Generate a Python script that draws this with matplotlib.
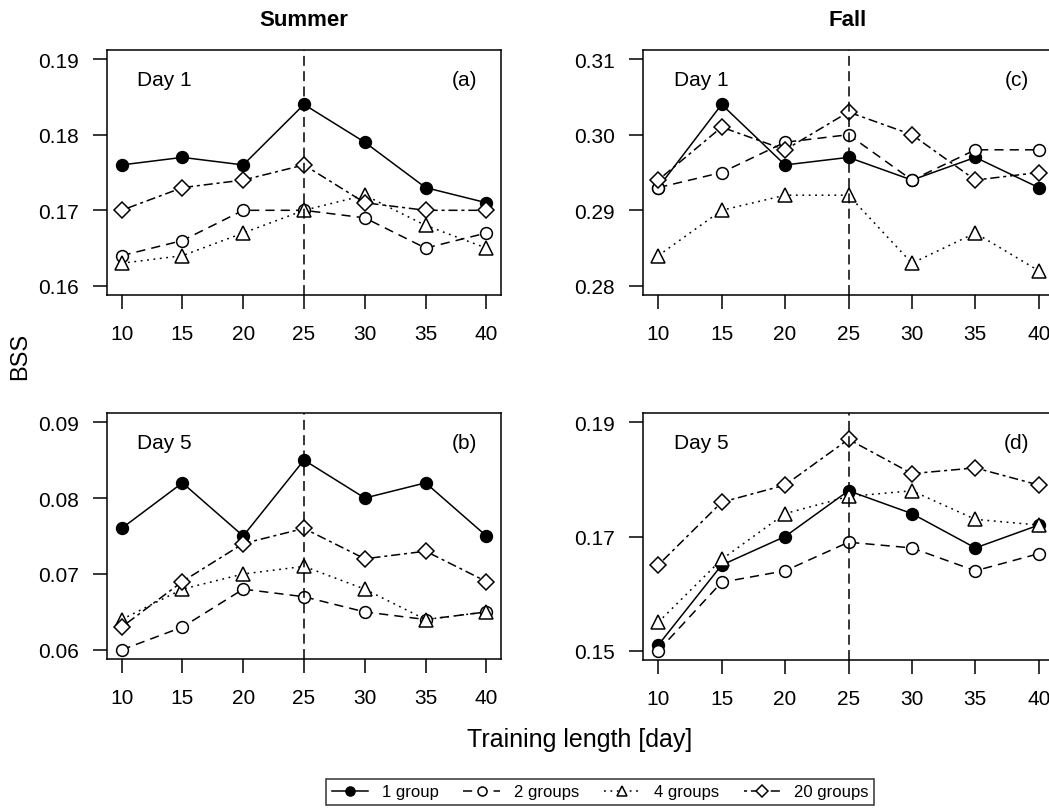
import matplotlib
matplotlib.use("Agg")
import matplotlib.pyplot as plt
from matplotlib.lines import Line2D

plt.rcParams['font.family'] = ['Liberation Sans', 'DejaVu Sans']

days = [10, 15, 20, 25, 30, 35, 40]
series_names = ["1 group", "2 groups", "4 groups", "20 groups"]

# Summer, Day 1 (a)
summer_d1_g1 = [0.176, 0.177, 0.176, 0.184, 0.179, 0.173, 0.171]
summer_d1_g2 = [0.164, 0.166, 0.170, 0.170, 0.169, 0.165, 0.167]
summer_d1_g4 = [0.163, 0.164, 0.167, 0.170, 0.172, 0.168, 0.165]
summer_d1_g20 = [0.170, 0.173, 0.174, 0.176, 0.171, 0.170, 0.170]
# Summer, Day 5 (b)
summer_d5_g1 = [0.076, 0.082, 0.075, 0.085, 0.080, 0.082, 0.075]
summer_d5_g2 = [0.060, 0.063, 0.068, 0.067, 0.065, 0.064, 0.065]
summer_d5_g4 = [0.064, 0.068, 0.070, 0.071, 0.068, 0.064, 0.065]
summer_d5_g20 = [0.063, 0.069, 0.074, 0.076, 0.072, 0.073, 0.069]
# Fall, Day 1 (c)
fall_d1_g1 = [0.293, 0.304, 0.296, 0.297, 0.294, 0.297, 0.293]
fall_d1_g2 = [0.293, 0.295, 0.299, 0.300, 0.294, 0.298, 0.298]
fall_d1_g4 = [0.284, 0.290, 0.292, 0.292, 0.283, 0.287, 0.282]
fall_d1_g20 = [0.294, 0.301, 0.298, 0.303, 0.300, 0.294, 0.295]
# Fall, Day 5 (d)
fall_d5_g1 = [0.151, 0.165, 0.170, 0.178, 0.174, 0.168, 0.172]
fall_d5_g2 = [0.150, 0.162, 0.164, 0.169, 0.168, 0.164, 0.167]
fall_d5_g4 = [0.155, 0.166, 0.174, 0.177, 0.178, 0.173, 0.172]
fall_d5_g20 = [0.165, 0.176, 0.179, 0.187, 0.181, 0.182, 0.179]

yticks_a = [0.16, 0.17, 0.18, 0.19]
yticks_b = [0.06, 0.07, 0.08, 0.09]
yticks_c = [0.28, 0.29, 0.30, 0.31]
yticks_d = [0.15, 0.17, 0.19]
xticks = [10, 15, 20, 25, 30, 35, 40]

W, H = 1049, 812
fig = plt.figure(figsize=(W / 100, H / 100), dpi=100)

def box(left, top, w, h):
    return [left / W, 1 - (top + h) / H, w / W, h / H]

styles = [
    dict(linestyle='-', marker='o', markerfacecolor='black', markersize=8.5),
    dict(linestyle=(0, (6, 4)), marker='o', markerfacecolor='white', markersize=8.5),
    dict(linestyle=(0, (1.2, 3)), marker='^', markerfacecolor='white', markersize=9.5),
    dict(linestyle=(0, (2, 2.5, 6, 2.5)), marker='D', markerfacecolor='white', markersize=8),
]

panels = [
    (box(107, 51, 394, 245), [summer_d1_g1, summer_d1_g2, summer_d1_g4, summer_d1_g20], yticks_a, "Day 1", "(a)"),
    (box(107, 414, 394, 246), [summer_d5_g1, summer_d5_g2, summer_d5_g4, summer_d5_g20], yticks_b, "Day 5", "(b)"),
    (box(643, 51, 411, 245), [fall_d1_g1, fall_d1_g2, fall_d1_g4, fall_d1_g20], yticks_c, "Day 1", "(c)"),
    (box(643, 414, 411, 247), [fall_d5_g1, fall_d5_g2, fall_d5_g4, fall_d5_g20], yticks_d, "Day 5", "(d)"),
]

axes = []
for pos, data, yt, daylab, plab in panels:
    ax = fig.add_axes(pos)
    axes.append(ax)
    for vals, st in zip(data, styles):
        ax.plot(days, vals, color='black', linewidth=1.1, markeredgecolor='black',
                markeredgewidth=1.1, clip_on=False, **st)
    ax.axvline(25, color='black', linestyle=(0, (6.5, 3.5)), linewidth=1.1)
    lo, hi = yt[0], yt[-1]
    pad = (hi - lo) * 0.04
    ax.set_ylim(lo - pad, hi + pad)
    ax.set_xlim(8.8, 41.2)
    ax.set_yticks(yt)
    ax.set_yticklabels([f"{v:.2f}" for v in yt])
    ax.set_xticks(xticks)
    ax.tick_params(direction='out', length=10, width=1.1, labelsize=15, colors='black')
    ax.tick_params(axis='y', pad=10.5)
    ax.tick_params(axis='x', pad=11)
    for sp in ax.spines.values():
        sp.set_linewidth(1.1)
    ax.text(0.075, 0.88, daylab, transform=ax.transAxes, fontsize=15, ha='left', va='center')
    ax.text(0.94, 0.88, plab, transform=ax.transAxes, fontsize=15, ha='right', va='center')

fig.text(304 / W, 1 - 20 / H, "Summer", fontsize=16, fontweight='bold', ha='center', va='center')
fig.text(848 / W, 1 - 20 / H, "Fall", fontsize=16, fontweight='bold', ha='center', va='center')
fig.text(20 / W, 1 - 356 / H, "BSS", fontsize=17, rotation=90, ha='center', va='center')
fig.text(580 / W, 1 - 740 / H, "Training length [day]", fontsize=18, ha='center', va='center')

handles = [Line2D([], [], color='black', linewidth=1.1, markeredgecolor='black',
                  markeredgewidth=1.1, **st) for st in styles]
leg = fig.legend(handles, series_names, loc='center', bbox_to_anchor=(600 / W, 1 - 793 / H),
                 ncol=4, fontsize=12, frameon=True, fancybox=False, edgecolor='black',
                 handlelength=2.2, columnspacing=1.5, handletextpad=0.8, borderpad=0.35)
leg.get_frame().set_linewidth(1.1)
for h in leg.legend_handles:
    h.set_markersize(6.5)

fig.savefig("out.png", dpi=100)
